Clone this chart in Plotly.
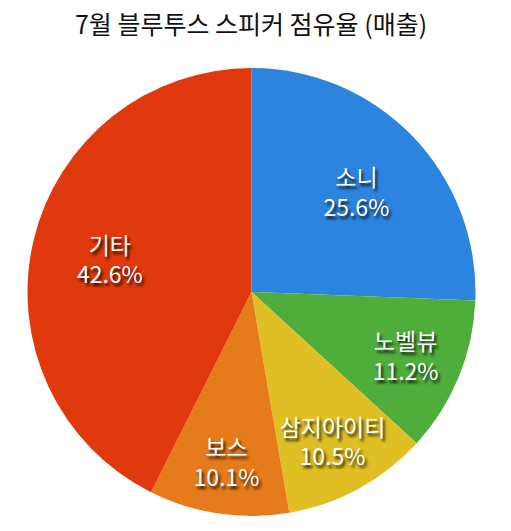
import plotly.graph_objects as go

# 7월 블루투스 스피커 점유율 (매출)
brands = ["소니", "노벨뷰", "삼지아이티", "보스", "기타"]
shares = [25.6, 11.2, 10.5, 10.1, 42.6]
colors = ["#2d84de", "#4fad3c", "#e0bf24", "#e67b1b", "#e0390d"]

# page body has an 8px margin, so the figure is a bit smaller than the window
W, H = 503, 523
OFF = 8

dom = dict(x=[(27 - OFF) / W, (476 - OFF) / W], y=[1 - (516 - OFF) / H, 1 - (68 - OFF) / H])

fig = go.Figure()

# coloured slices
fig.add_trace(
    go.Pie(
        labels=brands,
        values=shares,
        sort=False,
        direction="clockwise",
        rotation=0,
        marker=dict(colors=colors, line=dict(width=0)),
        textinfo="none",
        hoverinfo="skip",
        domain=dom,
    )
)

# transparent donut on top, only to carry the labels further out
fig.add_trace(
    go.Pie(
        labels=brands,
        values=shares,
        sort=False,
        direction="clockwise",
        rotation=0,
        hole=0.3,
        marker=dict(colors=["rgba(0,0,0,0)"] * len(brands), line=dict(width=0)),
        texttemplate="%{label}<br>%{value:.1f}%",
        textposition="inside",
        insidetextorientation="horizontal",
        textfont=dict(
            family="Noto Sans CJK KR",
            size=23,
            color="white",
            shadow="2px 3px 3px rgba(0,0,0,0.85)",
        ),
        hoverinfo="skip",
        domain=dom,
    )
)

fig.update_layout(
    width=W,
    height=H,
    showlegend=False,
    paper_bgcolor="white",
    margin=dict(l=0, r=0, t=0, b=0),
    title=dict(
        text="7월 블루투스 스피커 점유율 (매출)",
        x=(251 - OFF) / W,
        xanchor="center",
        y=1 - (25 - OFF) / H,
        yanchor="middle",
        font=dict(family="Noto Sans CJK KR", size=25, color="#111111"),
    ),
    uniformtext=dict(minsize=23, mode="show"),
)

fig.write_html("out.html")
